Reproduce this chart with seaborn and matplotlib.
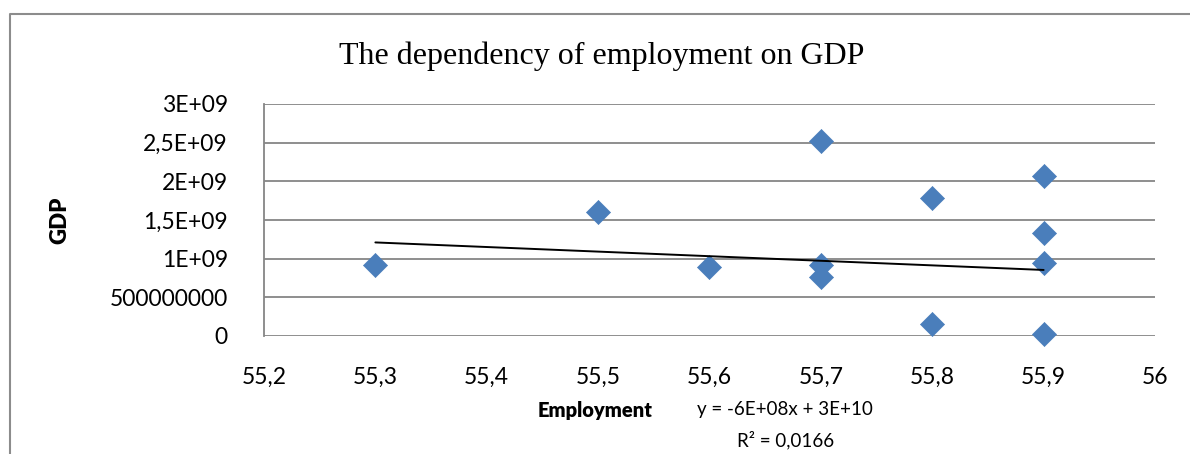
import matplotlib
matplotlib.use("Agg")
import matplotlib.pyplot as plt
from matplotlib.lines import Line2D
import seaborn as sns
import pandas as pd

# ---- data ----
employment = [55.3, 55.5, 55.6, 55.7, 55.7, 55.7, 55.8, 55.8, 55.9, 55.9, 55.9, 55.9]
gdp = [0.918e9, 1.604e9, 0.893e9, 2.52e9, 0.92e9, 0.76e9, 1.785e9, 0.155e9,
       2.066e9, 1.336e9, 0.944e9, 0.022e9]
trend_x = [55.3, 55.9]
trend_y = [1.21e9, 0.854e9]
x_ticks = [55.2, 55.3, 55.4, 55.5, 55.6, 55.7, 55.8, 55.9, 56.0]
x_tick_labels = ["55,2", "55,3", "55,4", "55,5", "55,6", "55,7", "55,8", "55,9", "56"]
y_ticks = [0, 5e8, 1e9, 1.5e9, 2e9, 2.5e9, 3e9]
y_tick_labels = ["0", "500000000", "1E+09", "1,5E+09", "2E+09", "2,5E+09", "3E+09"]
title = "The dependency of employment on GDP"
x_label = "Employment"
y_label = "GDP"
eq_text = "y = -6E+08x + 3E+10"
r2_text = "R\u00b2 = 0,0166"

df = pd.DataFrame({"Employment": employment, "GDP": gdp})
trend = pd.DataFrame({"x": trend_x, "y": trend_y})

sns.set_theme(style="white")
plt.rcParams["font.family"] = ["Lato", "DejaVu Sans"]

W, H = 1190, 454
fig = plt.figure(figsize=(W / 100, H / 100), dpi=100)
fig.patch.set_facecolor("white")

L, R, T, B = 264, 1155, 104, 336
ax = fig.add_axes([L / W, 1 - B / H, (R - L) / W, (B - T) / H])

grid_c = "#868686"
sns.scatterplot(data=df, x="Employment", y="GDP", marker="D", s=150,
                color="#4A7EBB", edgecolor="#4A7EBB", linewidth=0.5, ax=ax, zorder=3)
for coll in ax.collections:
    coll.set_clip_on(False)
sns.lineplot(data=trend, x="x", y="y", color="black", linewidth=1.4, ax=ax, zorder=4)

ax.set_xlim(55.2, 56.0)
ax.set_ylim(0, 3e9)
ax.set_xticks(x_ticks)
ax.set_xticklabels(x_tick_labels)
ax.set_yticks(y_ticks)
ax.set_yticklabels(y_tick_labels)
ax.tick_params(axis="both", length=0, labelsize=16.5, colors="black")
ax.tick_params(axis="y", pad=26)
ax.tick_params(axis="x", pad=22)
ax.yaxis.grid(True, color=grid_c, linewidth=1.3)
ax.xaxis.grid(False)
ax.set_axisbelow(True)
for s in ["top", "right", "bottom"]:
    ax.spines[s].set_visible(False)
ax.spines["left"].set_color(grid_c)
ax.spines["left"].set_linewidth(1.3)
ax.set_xlabel("")
ax.set_ylabel("")

# texts
fig.text(602 / W, 1 - 56 / H, title, family="Liberation Serif", fontsize=23,
         ha="center", va="center", color="black")
fig.text(60 / W, 1 - 220 / H, y_label, rotation=90, fontsize=16, fontweight="heavy",
         ha="center", va="center", color="black")
fig.text(595 / W, 1 - 411 / H, x_label, fontsize=14.5, fontweight="heavy",
         ha="center", va="center", color="black")
fig.text(785 / W, 1 - 410 / H, eq_text, fontsize=13.5, ha="center", va="center", color="black")
fig.text(786 / W, 1 - 440 / H, r2_text, fontsize=13.5, ha="center", va="center", color="black")

# chart frame (left and top edges visible)
fig.add_artist(Line2D([10 / W, 10 / W, 1.0], [0.0, 1 - 14 / H, 1 - 14 / H],
                      transform=fig.transFigure, color="#8c8c8c", linewidth=1.5))

fig.savefig("out.png", dpi=100, facecolor="white")
